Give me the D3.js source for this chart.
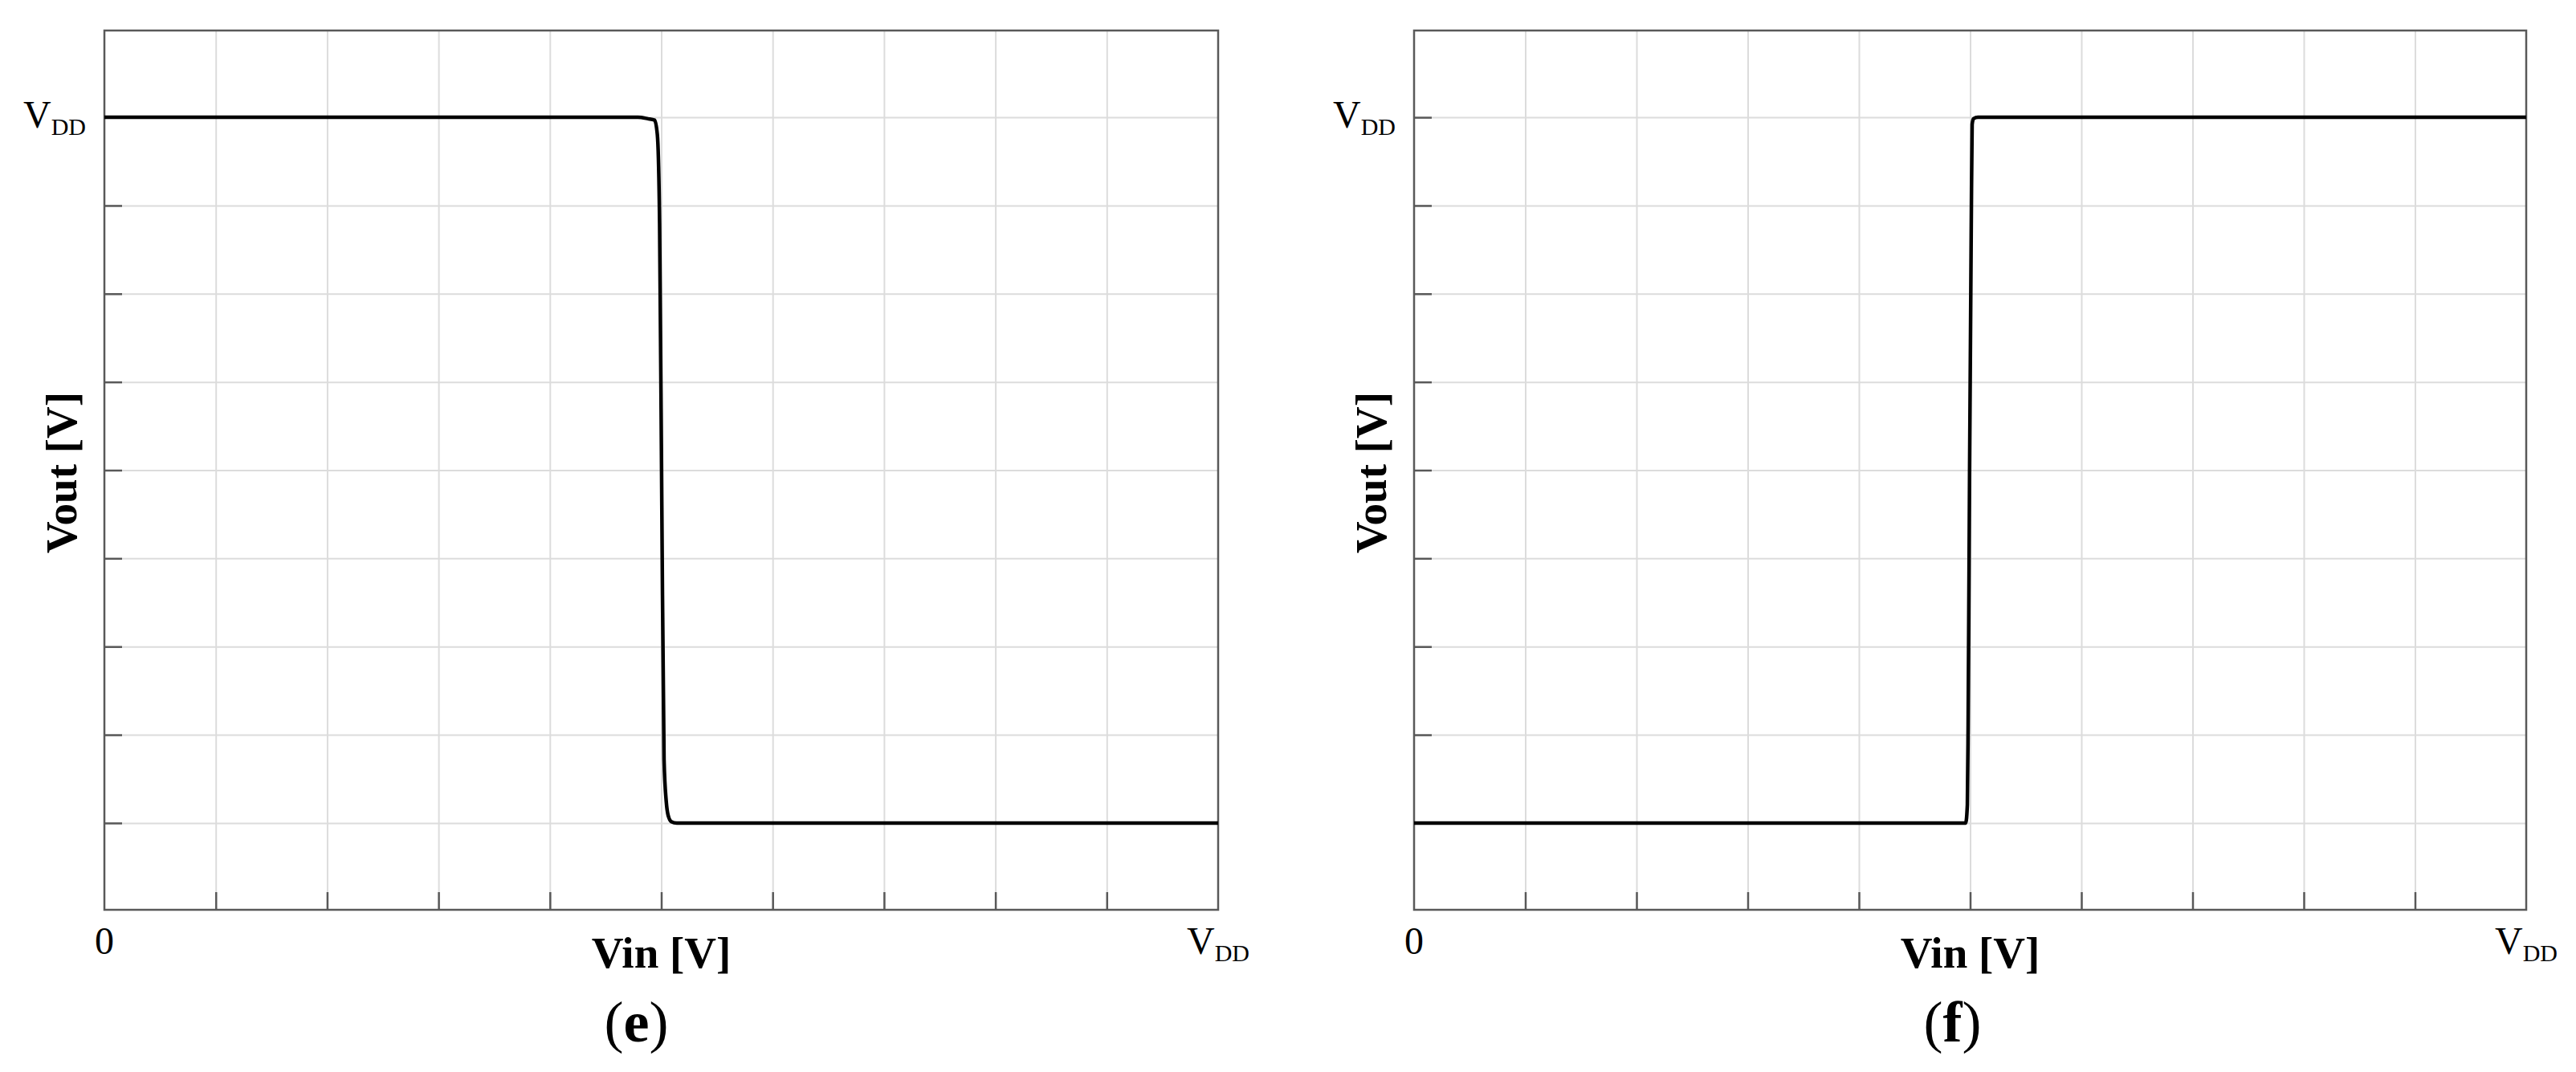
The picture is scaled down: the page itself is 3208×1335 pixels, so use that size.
<!DOCTYPE html>
<html>
<head>
<meta charset="utf-8">
<script src="https://cdn.jsdelivr.net/npm/d3@7"></script>
<style>
  body { margin: 0; background: #fff; }
  text { font-family: 'Liberation Serif', 'DejaVu Serif', serif; fill: #000; }
  .grid line { stroke: #dcdcdc; stroke-width: 2; }
  .grid path { display: none; }
  .axis path { display: none; }
  .axis line { stroke: #595959; stroke-width: 2.5; }
  .frame { fill: none; stroke: #595959; stroke-width: 2.5; }
  .curve { fill: none; stroke: #000; stroke-width: 4.5; stroke-linejoin: round; }
</style>
</head>
<body>
<script>
// values as fractions of VDD
const xTicks = [0.1, 0.2, 0.3, 0.4, 0.5, 0.6, 0.7, 0.8, 0.9]
const yTicks = [0, 0.125, 0.25, 0.375, 0.5, 0.625, 0.75, 0.875, 1]

// (e) inverter-like transfer: high -> low
const vinE = [0, 0.479, 0.488, 0.494, 0.4965, 0.4985, 0.5005, 0.5025, 0.5045, 0.506, 0.509, 0.514, 1]
const voutE = [1, 1, 0.998, 0.996, 0.975, 0.85, 0.45, 0.09, 0.03, 0.012, 0.002, 0, 0]

// (f) buffer-like transfer: low -> high
const vinF = [0, 0.496, 0.4975, 0.4982, 0.4995, 0.501, 0.5018, 0.503, 0.507, 1]
const voutF = [0, 0, 0.026, 0.14, 0.5, 0.847, 0.99, 0.998, 1, 1]

const captions = ['e', 'f']

const svg = d3.select('body').append('svg')
  .attr('width', 3208)
  .attr('height', 1335)

const plotTop = 38
const plotBottom = 1133

const panels = [
  {left: 130, right: 1517, vin: vinE, vout: voutE, caption: captions[0], capShift: -31},
  {left: 1761, right: 3146, vin: vinF, vout: voutF, caption: captions[1], capShift: -22}
]

panels.forEach((p) => {
  const x = d3.scaleLinear().domain([0, 1]).range([p.left, p.right])
  const y = d3.scaleLinear().domain([-0.123, 1.123]).range([plotBottom, plotTop])
  const w = p.right - p.left
  const h = plotBottom - plotTop

  const g = svg.append('g')

  // grid
  g.append('g')
    .attr('class', 'grid')
    .attr('transform', `translate(0,${plotBottom})`)
    .call(d3.axisBottom(x).tickValues(xTicks).tickSize(-h).tickFormat(''))

  g.append('g')
    .attr('class', 'grid')
    .attr('transform', `translate(${p.left},0)`)
    .call(d3.axisLeft(y).tickValues(yTicks).tickSize(-w).tickFormat(''))

  // inward ticks
  g.append('g')
    .attr('class', 'axis')
    .attr('transform', `translate(0,${plotBottom})`)
    .call(d3.axisBottom(x).tickValues(xTicks).tickSize(-22).tickFormat(''))

  g.append('g')
    .attr('class', 'axis')
    .attr('transform', `translate(${p.left},0)`)
    .call(d3.axisLeft(y).tickValues(yTicks).tickSize(-22).tickFormat(''))

  g.append('rect')
    .attr('class', 'frame')
    .attr('x', p.left)
    .attr('y', plotTop)
    .attr('width', w)
    .attr('height', h)

  // curve
  const pts = p.vin.map((v, i) => [v, p.vout[i]])
  g.append('path')
    .datum(pts)
    .attr('class', 'curve')
    .attr('d', d3.line().x((d) => x(d[0])).y((d) => y(d[1])).curve(d3.curveMonotoneX))

  // tick labels
  const vdd = (sel) => {
    sel.append('tspan').attr('font-size', 48).text('V')
    sel.append('tspan').attr('font-size', 30).attr('dy', 9).text('DD')
  }

  g.append('text')
    .attr('x', p.left - 23)
    .attr('y', y(1) + 13)
    .attr('text-anchor', 'end')
    .call(vdd)

  g.append('text')
    .attr('x', x(0))
    .attr('y', 1188)
    .attr('text-anchor', 'middle')
    .attr('font-size', 48)
    .text('0')

  g.append('text')
    .attr('x', x(1))
    .attr('y', 1188)
    .attr('text-anchor', 'middle')
    .call(vdd)

  // axis titles
  g.append('text')
    .attr('x', x(0.5))
    .attr('y', 1205)
    .attr('text-anchor', 'middle')
    .attr('font-size', 55)
    .attr('font-weight', 'bold')
    .text('Vin [V]')

  g.append('text')
    .attr('transform', `translate(${p.left - 35},${(plotTop + plotBottom) / 2 + 3}) rotate(-90)`)
    .attr('text-anchor', 'middle')
    .attr('font-size', 55)
    .attr('font-weight', 'bold')
    .text('Vout [V]')

  // caption
  const cap = g.append('text')
    .attr('x', x(0.5) + p.capShift)
    .attr('y', 1297)
    .attr('text-anchor', 'middle')
    .attr('font-size', 72)
  cap.append('tspan').text('(')
  cap.append('tspan').attr('font-weight', 'bold').text(p.caption)
  cap.append('tspan').text(')')
})
</script>
</body>
</html>
